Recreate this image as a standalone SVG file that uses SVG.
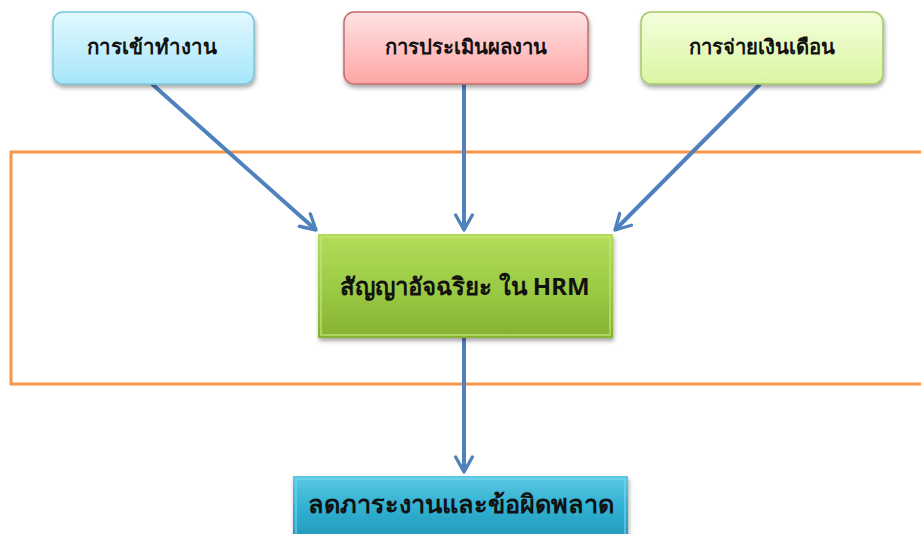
<svg xmlns="http://www.w3.org/2000/svg" width="921" height="534" viewBox="0 0 921 534">
<defs>
<linearGradient id="gBlue" x1="0" y1="0" x2="0" y2="1"><stop offset="0" stop-color="#E3F8FF"/><stop offset="1" stop-color="#A6E6FA"/></linearGradient>
<linearGradient id="gRed" x1="0" y1="0" x2="0" y2="1"><stop offset="0" stop-color="#FFE3E3"/><stop offset="1" stop-color="#FFA5A5"/></linearGradient>
<linearGradient id="gLime" x1="0" y1="0" x2="0" y2="1"><stop offset="0" stop-color="#F5FFDC"/><stop offset="1" stop-color="#D8F5A2"/></linearGradient>
<linearGradient id="gGreen" x1="0" y1="0" x2="0" y2="1"><stop offset="0" stop-color="#B4DC5A"/><stop offset="0.5" stop-color="#9CCB45"/><stop offset="1" stop-color="#86B132"/></linearGradient>
<linearGradient id="gTeal" x1="0" y1="0" x2="0" y2="1"><stop offset="0" stop-color="#5CC8E2"/><stop offset="0.5" stop-color="#2FB0D2"/><stop offset="1" stop-color="#2597B8"/></linearGradient>
<filter id="sh" x="-10%" y="-10%" width="125%" height="130%"><feDropShadow dx="1" dy="3" stdDeviation="2" flood-color="#000" flood-opacity="0.35"/></filter>
<marker id="arr" viewBox="0 0 12 12" refX="10" refY="6" markerWidth="5" markerHeight="5" orient="auto" markerUnits="strokeWidth"><path d="M1,1 L10,6 L1,11" fill="none" stroke="#4F81BD" stroke-width="2" stroke-linecap="round" stroke-linejoin="round"/></marker>
</defs>
<style>
.t{font-family:"Noto Sans","DejaVu Sans","Liberation Sans",sans-serif;font-weight:bold;fill:#111;text-anchor:middle;dominant-baseline:central}
.c{stroke:#4F81BD;stroke-width:4;fill:none;marker-end:url(#arr)}
</style>
<rect width="921" height="534" fill="#fff"/>
<rect x="11" y="152" width="920" height="232" fill="none" stroke="#F79646" stroke-width="3"/>
<g id="connectors">
<line class="c" x1="152" y1="84" x2="316" y2="230"/>
<line class="c" x1="464" y1="84" x2="464" y2="230"/>
<line class="c" x1="760" y1="84" x2="615" y2="230"/>
<line class="c" x1="464" y1="338" x2="464" y2="472"/>
</g>
<g id="n1"><rect x="53" y="12" width="201" height="72" rx="10" fill="url(#gBlue)" stroke="#78C6DC" stroke-width="1.5" filter="url(#sh)"/><text class="t" x="152" y="46" font-size="20.5">การเข้าทำงาน</text></g>
<g id="n2"><rect x="344" y="12" width="244" height="72" rx="10" fill="url(#gRed)" stroke="#C86B6B" stroke-width="1.5" filter="url(#sh)"/><text class="t" x="466" y="46" font-size="20.3">การประเมินผลงาน</text></g>
<g id="n3"><rect x="641" y="12" width="242" height="72" rx="10" fill="url(#gLime)" stroke="#A5C866" stroke-width="1.5" filter="url(#sh)"/><text class="t" x="762" y="46" font-size="20.3">การจ่ายเงินเดือน</text></g>
<g id="n4"><rect x="318" y="234" width="295" height="104" fill="url(#gGreen)" filter="url(#sh)"/><rect x="321" y="237" width="289" height="98" fill="none" stroke="#C6E67E" stroke-width="2" opacity="0.6"/><text class="t" x="465" y="285" font-size="24">สัญญาอัจฉริยะ ใน HRM</text></g>
<g id="n5"><rect x="293" y="476" width="335" height="64" fill="url(#gTeal)" filter="url(#sh)"/><rect x="296" y="479" width="329" height="60" fill="none" stroke="#7AD6EC" stroke-width="2" opacity="0.6"/><text class="t" x="461" y="503" font-size="25.3">ลดภาระงานและข้อผิดพลาด</text></g>
</svg>
